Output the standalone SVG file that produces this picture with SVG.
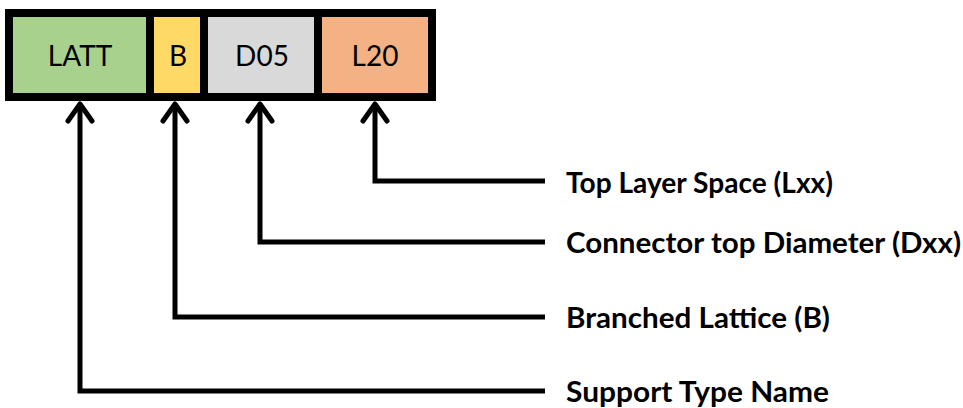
<svg xmlns="http://www.w3.org/2000/svg" width="963" height="408" viewBox="0 0 963 408">
<style>
.box{stroke:#000;stroke-width:8}
.bt{font-family:Lato,"Open Sans",sans-serif;font-size:28px;fill:#000;text-anchor:middle}
.lb{font-family:Lato,"Open Sans",sans-serif;font-size:28px;font-weight:bold;fill:#000}
.ln{fill:none;stroke:#000;stroke-width:5;stroke-linecap:butt;stroke-linejoin:miter}
.ah{fill:none;stroke:#000;stroke-width:5;stroke-linecap:round;stroke-linejoin:round}
</style>
<rect width="963" height="408" fill="#fff"/>
<g id="node-latt"><rect class="box" x="9" y="13" width="141" height="84" fill="#A9D18E"/><text class="bt" x="80" y="66">LATT</text></g>
<g id="node-b"><rect class="box" x="150" y="13" width="54" height="84" fill="#FFD966"/><text class="bt" x="178" y="66">B</text></g>
<g id="node-d05"><rect class="box" x="204" y="13" width="114" height="84" fill="#D9D9D9"/><text class="bt" x="262" y="66">D05</text></g>
<g id="node-l20"><rect class="box" x="318" y="13" width="114" height="84" fill="#F4B183"/><text class="bt" x="375" y="66">L20</text></g>
<g id="labels">
<text class="lb" x="566" y="193" textLength="267" lengthAdjust="spacingAndGlyphs">Top Layer Space (Lxx)</text>
<text class="lb" x="566" y="253" textLength="395" lengthAdjust="spacingAndGlyphs">Connector top Diameter (Dxx)</text>
<text class="lb" x="566" y="328" textLength="264" lengthAdjust="spacingAndGlyphs">Branched Lattice (B)</text>
<text class="lb" x="566" y="402" textLength="263" lengthAdjust="spacingAndGlyphs">Support Type Name</text>
</g>
<g id="connectors">
<path class="ln" d="M375,104 V181 H545"/>
<path class="ln" d="M260,104 V242 H545"/>
<path class="ln" d="M175,104 V317 H545"/>
<path class="ln" d="M80,104 V391 H545"/>
<path class="ah" d="M363,121 L375,104 L387,121"/>
<path class="ah" d="M248,121 L260,104 L272,121"/>
<path class="ah" d="M163,121 L175,104 L187,121"/>
<path class="ah" d="M68,121 L80,104 L92,121"/>
</g>
</svg>
